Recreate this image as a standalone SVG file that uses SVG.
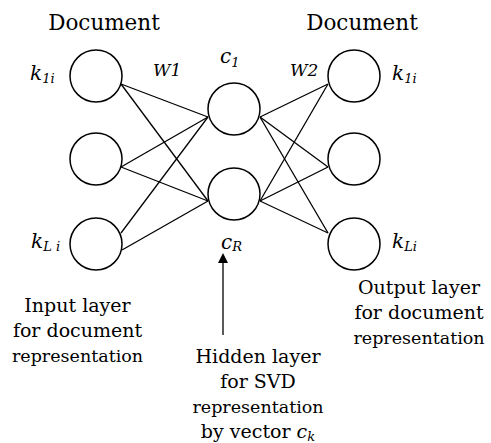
<svg xmlns="http://www.w3.org/2000/svg" width="491" height="443" viewBox="0 0 491 443">
<style>
.n{fill:#fff;stroke:#000;stroke-width:1.5}
.e{stroke:#000;stroke-width:1.3;fill:none}
.c{text-anchor:middle;font-size:19px}
.r{font-size:17.5px}
.i{font-style:italic}
.doc{font-size:21.5px;text-anchor:middle}
</style>
<rect width="491" height="443" fill="#fff"/>
<g id="connectors">
<line class="e" x1="121" y1="84" x2="208" y2="117"/>
<line class="e" x1="121" y1="84" x2="208" y2="201"/>
<line class="e" x1="121" y1="167" x2="208" y2="117"/>
<line class="e" x1="121" y1="167" x2="208" y2="201"/>
<line class="e" x1="121" y1="233" x2="208" y2="117"/>
<line class="e" x1="122" y1="250" x2="208" y2="201"/>
<line class="e" x1="260" y1="117" x2="328" y2="84"/>
<line class="e" x1="260" y1="117" x2="328" y2="167"/>
<line class="e" x1="260" y1="117" x2="328" y2="233"/>
<line class="e" x1="260" y1="201" x2="328" y2="84"/>
<line class="e" x1="260" y1="201" x2="328" y2="167"/>
<line class="e" x1="260" y1="201" x2="328" y2="233"/>
<line class="e" x1="223" y1="335" x2="223" y2="261"/>
<polygon points="223,253 218,263 228,263" fill="#000"/>
</g>
<g id="in1"><circle class="n" cx="96" cy="76" r="26"/></g>
<g id="in2"><circle class="n" cx="96" cy="159" r="26"/></g>
<g id="in3"><circle class="n" cx="96" cy="244" r="26"/></g>
<g id="h1"><circle class="n" cx="234" cy="109" r="26"/></g>
<g id="h2"><circle class="n" cx="234" cy="194" r="26"/></g>
<g id="out1"><circle class="n" cx="354" cy="76" r="26"/></g>
<g id="out2"><circle class="n" cx="354" cy="159" r="26"/></g>
<g id="out3"><circle class="n" cx="354" cy="244" r="26"/></g>
<g id="labels" fill="#000" font-family="DejaVu Serif, serif">
<text class="doc" x="104" y="30">Document</text>
<text class="doc" x="362" y="30">Document</text>
<text class="i" x="30" y="80" font-size="20">k<tspan font-size="13" dy="3">1i</tspan></text>
<text class="i" x="392" y="80" font-size="20">k<tspan font-size="13" dy="3">1i</tspan></text>
<text class="i" x="31" y="248" font-size="20">k<tspan font-size="13" dy="3">L i</tspan></text>
<text class="i" x="392" y="248" font-size="20">k<tspan font-size="13" dy="3">Li</tspan></text>
<text class="i" x="153" y="76" font-size="17">W1</text>
<text class="i" x="290" y="76" font-size="17">W2</text>
<text class="i" x="220" y="63" font-size="20">c<tspan font-size="13" dy="4">1</tspan></text>
<text class="i" x="221" y="249" font-size="20">c<tspan font-size="13" dy="2">R</tspan></text>
<text class="c" x="77.5" y="312">Input layer</text>
<text class="c" x="77.5" y="337">for document</text>
<text class="c r" x="77.5" y="362">representation</text>
<text class="c" x="419" y="294">Output layer</text>
<text class="c" x="419" y="319">for document</text>
<text class="c r" x="419" y="344">representation</text>
<text class="c" x="258" y="363">Hidden layer</text>
<text class="c" x="258" y="388">for SVD</text>
<text class="c r" x="258" y="413">representation</text>
<text class="c" x="258" y="438">by vector <tspan class="i">c</tspan><tspan class="i" font-size="13" dy="3">k</tspan></text>
</g>
</svg>
